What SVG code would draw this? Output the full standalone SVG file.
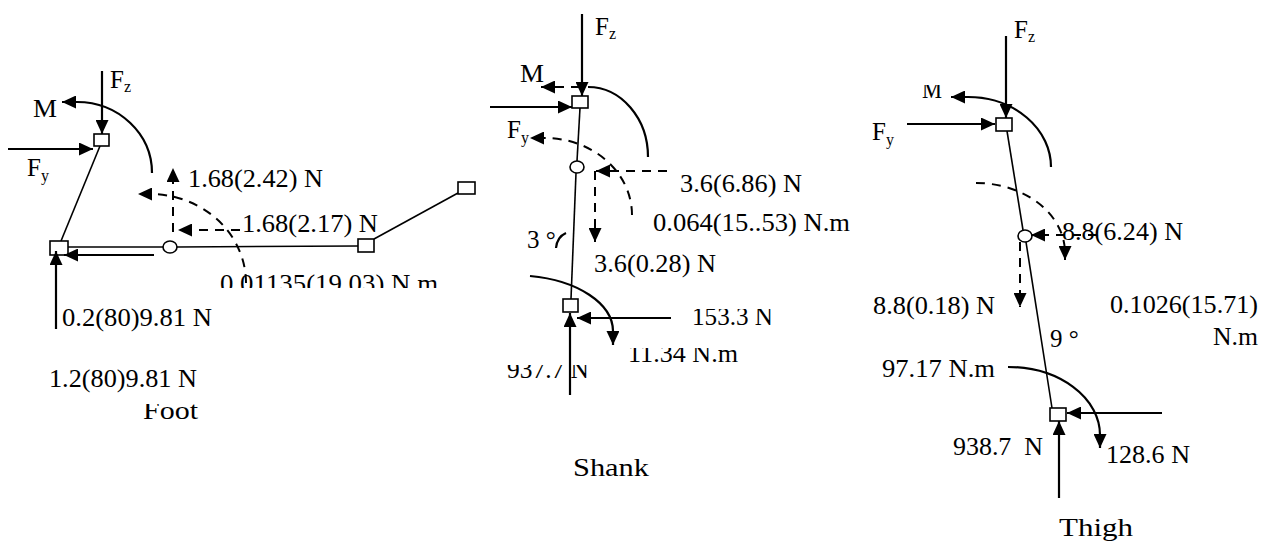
<svg xmlns="http://www.w3.org/2000/svg" width="1272" height="543" viewBox="0 0 1272 543">
<style>
.t{font-family:"Liberation Serif","Times New Roman",Times,serif;font-size:25px;fill:#000}
.sub{font-size:16px}
.a{stroke:#000;stroke-width:2.2;fill:none}
.d{stroke:#000;stroke-width:2;fill:none;stroke-dasharray:9 7}
.m{stroke:#000;stroke-width:1.6;fill:none}
.j{stroke:#000;stroke-width:1.6;fill:#fff}
</style>
<defs>
<marker id="ah" markerWidth="14" markerHeight="13" refX="14" refY="6.5" orient="auto" markerUnits="userSpaceOnUse"><path d="M0,0 L14,6.5 L0,13 z" fill="#000"/></marker>
<clipPath id="c1"><rect x="200" y="250" width="260" height="38"/></clipPath>
<clipPath id="c2"><rect x="130" y="404" width="90" height="30"/></clipPath>
<clipPath id="c3"><rect x="680" y="309" width="110" height="30"/></clipPath>
<clipPath id="c4"><rect x="620" y="348" width="130" height="25"/></clipPath>
<clipPath id="c5"><rect x="500" y="365" width="100" height="25"/></clipPath>
<clipPath id="c6"><rect x="915" y="85" width="35" height="20"/></clipPath>
</defs>

<!-- FOOT -->
<g id="foot">
  <g id="foot-members">
    <line class="m" x1="100" y1="146" x2="61" y2="241"/>
    <line class="m" x1="68" y1="247" x2="163" y2="247"/>
    <line class="m" x1="177" y1="247" x2="358" y2="246"/>
    <line class="m" x1="374" y1="239" x2="458" y2="193"/>
  </g>
  <g id="foot-ankle"><rect class="j" x="94" y="134" width="15" height="12"/></g>
  <g id="foot-heel"><rect class="j" x="50" y="241" width="18" height="14"/></g>
  <g id="foot-cm"><ellipse class="j" cx="170" cy="247" rx="7" ry="6"/></g>
  <g id="foot-met"><rect class="j" x="358" y="239" width="16" height="13"/></g>
  <g id="foot-toe"><rect class="j" x="458" y="182" width="17" height="12"/></g>
  <g id="foot-connectors">
    <line class="a" x1="102" y1="71" x2="102" y2="134" marker-end="url(#ah)"/>
    <path class="a" d="M152,173 A75,71 0 0 0 77,102 L62,102" marker-end="url(#ah)"/>
    <line class="a" x1="8" y1="149" x2="93" y2="149" marker-end="url(#ah)"/>
    <line class="a" x1="154" y1="255" x2="64" y2="255" marker-end="url(#ah)"/>
    <line class="a" x1="56" y1="329" x2="56" y2="251" marker-end="url(#ah)"/>
    <line class="d" x1="173" y1="232" x2="173" y2="168" marker-end="url(#ah)"/>
    <line class="d" x1="240" y1="230" x2="178" y2="230" marker-end="url(#ah)"/>
    <path class="d" d="M246,283 A96,89 0 0 0 150,194 L138,194" marker-end="url(#ah)"/>
  </g>
  <g id="foot-labels">
    <text class="t" x="33" y="117" textLength="24" lengthAdjust="spacingAndGlyphs">M</text>
    <text class="t" x="110" y="88">F<tspan class="sub" dy="4">z</tspan></text>
    <text class="t" x="27" y="176">F<tspan class="sub" dy="5">y</tspan></text>
    <text class="t" x="188" y="187" textLength="135" lengthAdjust="spacingAndGlyphs">1.68(2.42) N</text>
    <text class="t" x="242" y="232" textLength="136" lengthAdjust="spacingAndGlyphs">1.68(2.17) N</text>
    <text class="t" x="220" y="292" textLength="218" lengthAdjust="spacingAndGlyphs" clip-path="url(#c1)">0.01135(19.03) N.m</text>
    <text class="t" x="62" y="326" textLength="150" lengthAdjust="spacingAndGlyphs">0.2(80)9.81 N</text>
    <text class="t" x="49" y="387" textLength="148" lengthAdjust="spacingAndGlyphs">1.2(80)9.81 N</text>
    <text class="t" x="143" y="419" textLength="55" lengthAdjust="spacingAndGlyphs" clip-path="url(#c2)">Foot</text>
  </g>
</g>

<!-- SHANK -->
<g id="shank">
  <g id="shank-members">
    <line class="m" x1="580" y1="108" x2="577" y2="161"/>
    <line class="m" x1="576" y1="173" x2="571" y2="299"/>
  </g>
  <g id="shank-knee"><rect class="j" x="572" y="96" width="16" height="12"/></g>
  <g id="shank-cm"><ellipse class="j" cx="577" cy="167" rx="7" ry="6"/></g>
  <g id="shank-ankle"><rect class="j" x="563" y="299" width="15" height="13"/></g>
  <g id="shank-connectors">
    <line class="a" x1="582" y1="14" x2="582" y2="96" marker-end="url(#ah)"/>
    <path class="a" d="M648,157 A60,70 0 0 0 588,87"/>
    <line class="d" x1="580" y1="87" x2="541" y2="87" marker-end="url(#ah)"/>
    <line class="a" x1="490" y1="107" x2="572" y2="107" marker-end="url(#ah)"/>
    <path class="d" d="M632,215 A87,77 0 0 0 545,138 L530,138" marker-end="url(#ah)"/>
    <line class="d" x1="667" y1="171" x2="596" y2="171" marker-end="url(#ah)"/>
    <line class="d" x1="595" y1="171" x2="595" y2="242" marker-end="url(#ah)"/>
    <line class="a" x1="570" y1="395" x2="570" y2="313" marker-end="url(#ah)"/>
    <line class="a" x1="671" y1="318" x2="577" y2="318" marker-end="url(#ah)"/>
    <path class="a" d="M530,276 A98,56 0 0 1 613,331 L613,345" marker-end="url(#ah)"/>
    <path class="a" d="M556,248 Q557,237 566,233"/>
  </g>
  <g id="shank-labels">
    <text class="t" x="595" y="35">F<tspan class="sub" dy="4">z</tspan></text>
    <text class="t" x="520" y="82" textLength="24" lengthAdjust="spacingAndGlyphs">M</text>
    <text class="t" x="507" y="138">F<tspan class="sub" dy="5">y</tspan></text>
    <text class="t" x="680" y="192" textLength="122" lengthAdjust="spacingAndGlyphs">3.6(6.86) N</text>
    <text class="t" x="653" y="231" textLength="197" lengthAdjust="spacingAndGlyphs">0.064(15..53) N.m</text>
    <text class="t" x="594" y="272" textLength="122" lengthAdjust="spacingAndGlyphs">3.6(0.28) N</text>
    <text class="t" x="527" y="248">3 °</text>
    <text class="t" x="692" y="325" textLength="81" lengthAdjust="spacingAndGlyphs" clip-path="url(#c3)">153.3 N</text>
    <text class="t" x="628" y="362" textLength="110" lengthAdjust="spacingAndGlyphs" clip-path="url(#c4)">11.34 N.m</text>
    <text class="t" x="507" y="378" textLength="82" lengthAdjust="spacingAndGlyphs" clip-path="url(#c5)">937.7 N</text>
    <text class="t" x="573" y="476" textLength="76" lengthAdjust="spacingAndGlyphs">Shank</text>
  </g>
</g>

<!-- THIGH -->
<g id="thigh">
  <g id="thigh-members">
    <line class="m" x1="1007" y1="131" x2="1023" y2="230"/>
    <line class="m" x1="1026" y1="242" x2="1052" y2="408"/>
  </g>
  <g id="thigh-hip"><rect class="j" x="996" y="118" width="16" height="13"/></g>
  <g id="thigh-cm"><ellipse class="j" cx="1025" cy="236" rx="7" ry="6"/></g>
  <g id="thigh-knee"><rect class="j" x="1050" y="408" width="16" height="13"/></g>
  <g id="thigh-connectors">
    <line class="a" x1="1006" y1="36" x2="1006" y2="118" marker-end="url(#ah)"/>
    <path class="a" d="M1051,167 A83,70 0 0 0 968,97 L951,97" marker-end="url(#ah)"/>
    <line class="a" x1="907" y1="124" x2="995" y2="124" marker-end="url(#ah)"/>
    <path class="d" d="M976,183 A89,70 0 0 1 1065,253 L1065,260" marker-end="url(#ah)"/>
    <line class="d" x1="1097" y1="235" x2="1031" y2="235" marker-end="url(#ah)"/>
    <line class="d" x1="1020" y1="242" x2="1020" y2="307" marker-end="url(#ah)"/>
    <path class="a" d="M1008,367 A92,68 0 0 1 1100,435 L1100,448" marker-end="url(#ah)"/>
    <line class="a" x1="1162" y1="413" x2="1067" y2="413" marker-end="url(#ah)"/>
    <line class="a" x1="1059" y1="498" x2="1059" y2="421" marker-end="url(#ah)"/>
  </g>
  <g id="thigh-labels">
    <text class="t" x="1014" y="38">F<tspan class="sub" dy="4">z</tspan></text>
    <text class="t" x="922" y="98" textLength="20" lengthAdjust="spacingAndGlyphs" clip-path="url(#c6)">M</text>
    <text class="t" x="872" y="140">F<tspan class="sub" dy="5">y</tspan></text>
    <text class="t" x="1062" y="240" textLength="121" lengthAdjust="spacingAndGlyphs">8.8(6.24) N</text>
    <text class="t" x="873" y="314" textLength="122" lengthAdjust="spacingAndGlyphs">8.8(0.18) N</text>
    <text class="t" x="1110" y="313" textLength="148" lengthAdjust="spacingAndGlyphs">0.1026(15.71)</text>
    <text class="t" x="1213" y="345" textLength="45" lengthAdjust="spacingAndGlyphs">N.m</text>
    <text class="t" x="1050" y="347">9 °</text>
    <text class="t" x="882" y="377" textLength="113" lengthAdjust="spacingAndGlyphs">97.17 N.m</text>
    <text class="t" x="953" y="455" textLength="90" lengthAdjust="spacingAndGlyphs" xml:space="preserve">938.7  N</text>
    <text class="t" x="1106" y="463" textLength="84" lengthAdjust="spacingAndGlyphs">128.6 N</text>
    <text class="t" x="1059" y="536" textLength="74" lengthAdjust="spacingAndGlyphs">Thigh</text>
  </g>
</g>
</svg>
